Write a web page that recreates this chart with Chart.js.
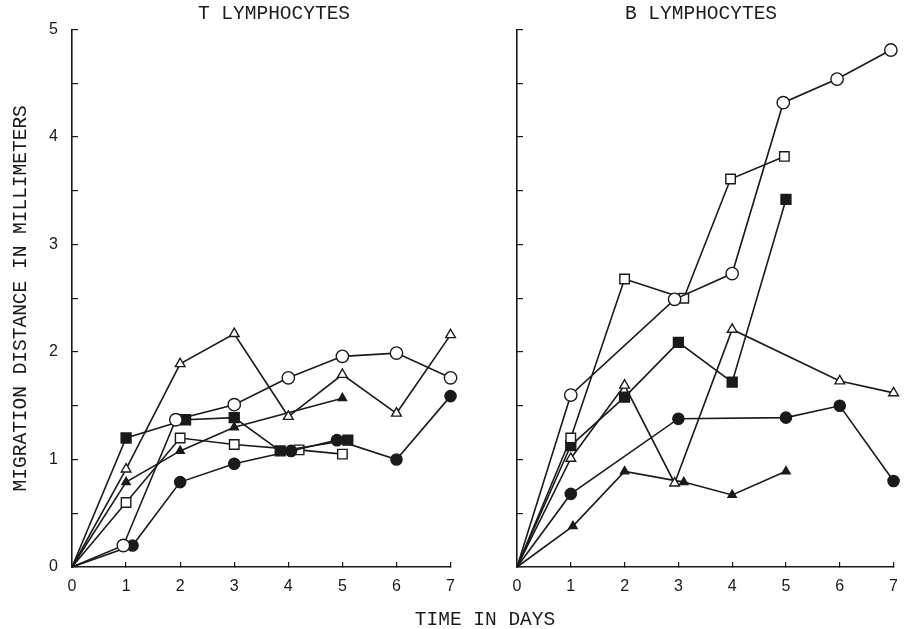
<!DOCTYPE html>
<html>
<head>
<meta charset="utf-8">
<title>Lymphocyte migration</title>
<script src="https://cdn.jsdelivr.net/npm/chart.js@4.4.1/dist/chart.umd.min.js"></script>
<style>
    body { margin: 0; background: #fff; }
    #wrap { position: relative; width: 913px; height: 629px; overflow: hidden; }
    canvas { position: absolute; top: 0; }
    .lbl {
        position: absolute;
        font-family: 'Liberation Mono', 'DejaVu Sans Mono', monospace;
        font-size: 19.5px;
        line-height: 22px;
        color: #1c1c1c;
        white-space: nowrap;
        transform: translateX(-50%);
    }
</style>
</head>
<body>
<div id="wrap">
    <canvas id="tChart" width="470" height="629" style="left:0;width:470px;height:629px"></canvas>
    <canvas id="bChart" width="443" height="629" style="left:470px;width:443px;height:629px"></canvas>
    <div class="lbl" style="left:274px;top:3px">T LYMPHOCYTES</div>
    <div class="lbl" style="left:701px;top:3px">B LYMPHOCYTES</div>
    <div class="lbl" style="left:485px;top:609px">TIME IN DAYS</div>
</div>
<script>
// axis ranges
const dayMin = 0, dayMax = 7;
const mmMin = 0, mmMax = 5;
const yAxisTitle = 'MIGRATION DISTANCE IN MILLIMETERS';

// T lymphocytes (days, mm)
const tOpenTriDays = [0, 1, 2, 3, 4, 5, 6, 7];
const tOpenTriMm = [0, 0.91, 1.89, 2.17, 1.40, 1.79, 1.43, 2.16];
const tOpenCircDays = [0, 0.95, 1.92, 3, 4, 5, 6, 7];
const tOpenCircMm = [0, 0.20, 1.37, 1.51, 1.76, 1.96, 1.99, 1.76];
const tFillSqDays = [0, 1, 2.1, 3, 3.85, 5.1];
const tFillSqMm = [0, 1.20, 1.37, 1.39, 1.08, 1.18];
const tFillCircDays = [0, 1.12, 2, 3, 4.05, 4.9, 6, 7];
const tFillCircMm = [0, 0.20, 0.79, 0.96, 1.08, 1.18, 1.00, 1.59];
const tOpenSqDays = [0, 1, 2, 3, 4.2, 5];
const tOpenSqMm = [0, 0.60, 1.20, 1.14, 1.09, 1.05];
const tFillTriDays = [0, 1, 2, 3, 5];
const tFillTriMm = [0, 0.79, 1.08, 1.30, 1.57];

// B lymphocytes (days, mm)
const bOpenCircDays = [0, 1, 2.93, 4, 4.95, 5.95, 6.95];
const bOpenCircMm = [0, 1.60, 2.49, 2.73, 4.32, 4.54, 4.81];
const bOpenSqDays = [0, 1, 2, 3.1, 3.97, 4.97];
const bOpenSqMm = [0, 1.20, 2.68, 2.50, 3.61, 3.82];
const bFillSqDays = [0, 1, 2, 3, 4, 5];
const bFillSqMm = [0, 1.13, 1.58, 2.09, 1.72, 3.42];
const bOpenTriDays = [0, 1, 2, 2.93, 4, 6, 7];
const bOpenTriMm = [0, 1.01, 1.69, 0.78, 2.21, 1.73, 1.62];
const bFillCircDays = [0, 1, 3, 5, 6, 7];
const bFillCircMm = [0, 0.68, 1.38, 1.39, 1.50, 0.80];
const bFillTriDays = [0, 1.04, 2, 3.1, 4, 5];
const bFillTriMm = [0, 0.38, 0.89, 0.79, 0.67, 0.89];

const ink = '#1a1a1a';

function series(days, mm, style, filled) {
    let r = 6;
    if (style === 'rect') r = filled ? 7 : 6.7;
    if (style === 'triangle') r = filled ? 4.8 : 5.6;
    if (style === 'circle') r = filled ? 5.6 : 6.2;
    return {
        data: days.map((d, i) => ({ x: d, y: mm[i] })),
        showLine: true,
        borderColor: ink,
        borderWidth: 1.6,
        pointStyle: style,
        // the common origin carries no marker, only the lines meet there
        pointRadius: ctx => (ctx.raw && ctx.raw.x === 0) ? 0 : r,
        pointBorderWidth: 1.4,
        pointBorderColor: ink,
        pointBackgroundColor: filled ? ink : '#fff',
        tension: 0,
        clip: false
    };
}

function buildOptions(isLeft) {
    return {
        responsive: false,
        animation: false,
        events: [],
        layout: { padding: { top: 21, right: isLeft ? 10 : 6.3, bottom: 0, left: 0 } },
        plugins: { legend: { display: false }, tooltip: { enabled: false } },
        scales: {
            x: {
                type: 'linear',
                min: dayMin,
                max: dayMax,
                afterFit: s => { s.height = 62; },
                grid: { drawOnChartArea: false, drawTicks: true, tickLength: -5, color: ink, lineWidth: 1.2 },
                border: { display: true, color: ink, width: 1.6 },
                ticks: {
                    stepSize: 1,
                    autoSkip: false,
                    maxRotation: 0,
                    padding: 15,
                    color: ink,
                    font: { family: "'Liberation Sans', Arial, sans-serif", size: 16 },
                    callback: v => v
                }
            },
            y: {
                type: 'linear',
                min: mmMin,
                max: mmMax,
                afterFit: s => { s.width = isLeft ? 72 : 47; },
                grid: { drawOnChartArea: false, drawTicks: true, tickLength: -6, color: ink, lineWidth: 1.2 },
                border: { display: true, color: ink, width: 1.6 },
                title: {
                    display: isLeft,
                    text: yAxisTitle,
                    color: ink,
                    font: { family: "'Liberation Mono', monospace", size: 19.5, lineHeight: 1.2 },
                    padding: { top: 9, bottom: 0 }
                },
                ticks: {
                    stepSize: 0.5,
                    autoSkip: false,
                    padding: 20,
                    color: ink,
                    font: { family: "'Liberation Sans', Arial, sans-serif", size: 16 },
                    callback: v => (isLeft && Number.isInteger(v)) ? v : ''
                }
            }
        }
    };
}

new Chart(document.getElementById('tChart'), {
    type: 'scatter',
    data: {
        datasets: [
            series(tOpenTriDays, tOpenTriMm, 'triangle', false),
            series(tOpenCircDays, tOpenCircMm, 'circle', false),
            series(tFillSqDays, tFillSqMm, 'rect', true),
            series(tFillCircDays, tFillCircMm, 'circle', true),
            series(tOpenSqDays, tOpenSqMm, 'rect', false),
            series(tFillTriDays, tFillTriMm, 'triangle', true)
        ]
    },
    options: buildOptions(true)
});

new Chart(document.getElementById('bChart'), {
    type: 'scatter',
    data: {
        datasets: [
            series(bOpenCircDays, bOpenCircMm, 'circle', false),
            series(bOpenSqDays, bOpenSqMm, 'rect', false),
            series(bFillSqDays, bFillSqMm, 'rect', true),
            series(bOpenTriDays, bOpenTriMm, 'triangle', false),
            series(bFillCircDays, bFillCircMm, 'circle', true),
            series(bFillTriDays, bFillTriMm, 'triangle', true)
        ]
    },
    options: buildOptions(false)
});
</script>
</body>
</html>
